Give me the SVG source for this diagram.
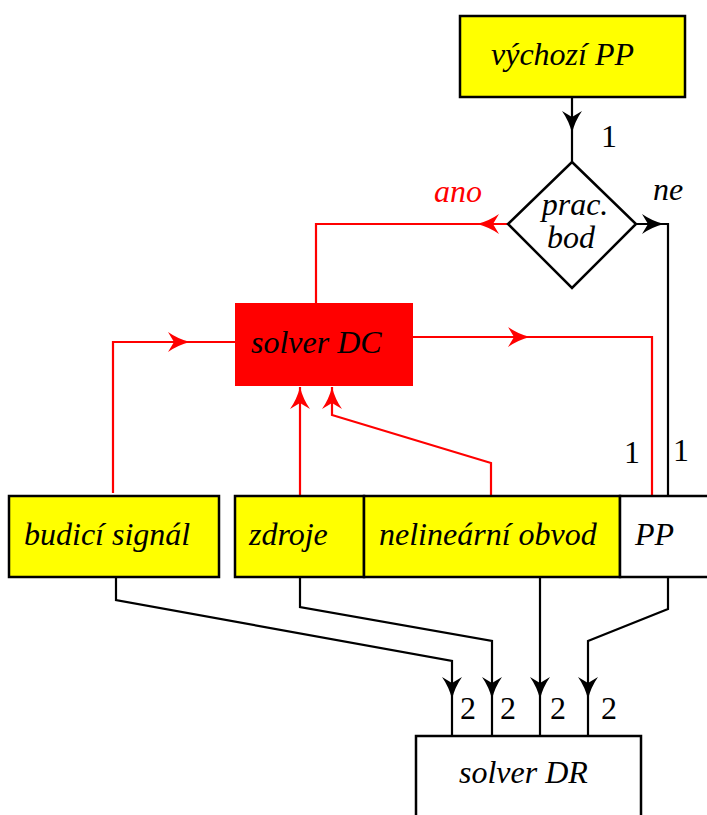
<svg xmlns="http://www.w3.org/2000/svg" xmlns:xlink="http://www.w3.org/1999/xlink" width="707" height="815" viewBox="0 0 707 815" font-family="Liberation Serif, Times New Roman, serif" font-size="32">
  <style>
    .box { fill: #ffff00; stroke: #000; stroke-width: 2.5; }
    .plain { fill: #fff; stroke: #000; stroke-width: 2.5; }
    .blk { fill: none; stroke: #000; stroke-width: 2.2; }
    .red { fill: none; stroke: #ff0000; stroke-width: 2.2; }
    .it { font-style: italic; }
  </style>
  <defs>
    <!-- barbed arrowhead, tip at origin, pointing along +x -->
    <path id="ah" d="M0,0 Q-12,-3 -22,-10 L-16,0 L-22,10 Q-12,3 0,0 Z"/>
  </defs>

  <!-- connectors -->
  <g id="connectors">
    <!-- black flow -->
    <path class="blk" d="M572,97 V162"/>
    <path class="blk" d="M636,224 H668 V497"/>
    <path class="blk" d="M116,577 V600 L452,661 V736"/>
    <path class="blk" d="M300,577 V607 L492,641 V736"/>
    <path class="blk" d="M540,577 V736"/>
    <path class="blk" d="M668,577 V609 L588,641 V736"/>
    <!-- red flow -->
    <path class="red" d="M508,224 H316 V303"/>
    <path class="red" d="M113,493 V342 H235"/>
    <path class="red" d="M413,337 H652 V497"/>
    <path class="red" d="M300,497 V387"/>
    <path class="red" d="M332,387 V415 L491,463 V497"/>

    <!-- arrowheads -->
    <use xlink:href="#ah" fill="#000" transform="translate(572,133) rotate(90)"/>
    <use xlink:href="#ah" fill="#000" transform="translate(664,224)"/>
    <use xlink:href="#ah" fill="#000" transform="translate(452,699) rotate(90)"/>
    <use xlink:href="#ah" fill="#000" transform="translate(492,699) rotate(90)"/>
    <use xlink:href="#ah" fill="#000" transform="translate(540,699) rotate(90)"/>
    <use xlink:href="#ah" fill="#000" transform="translate(588,699) rotate(90)"/>
    <use xlink:href="#ah" fill="#ff0000" transform="translate(477,224) rotate(180)"/>
    <use xlink:href="#ah" fill="#ff0000" transform="translate(190,342)"/>
    <use xlink:href="#ah" fill="#ff0000" transform="translate(530,337)"/>
    <use xlink:href="#ah" fill="#ff0000" transform="translate(300,387) rotate(-90)"/>
    <use xlink:href="#ah" fill="#ff0000" transform="translate(332,387) rotate(-90)"/>

    <!-- connector labels -->
    <text x="601" y="147">1</text>
    <text class="it" x="653" y="200">ne</text>
    <text class="it" x="434" y="202" fill="#ff0000">ano</text>
    <text x="624" y="463">1</text>
    <text x="673" y="461">1</text>
    <text x="460" y="719">2</text>
    <text x="500" y="719">2</text>
    <text x="550" y="719">2</text>
    <text x="601" y="719">2</text>
  </g>

  <g id="vychozi-pp">
    <rect class="box" x="460" y="16" width="225" height="81"/>
    <text class="it" x="491" y="65">výchozí PP</text>
  </g>

  <g id="prac-bod">
    <polygon class="plain" points="572,162 636,224 572,288 508,224"/>
    <text class="it" x="575" y="215" text-anchor="middle">prac.</text>
    <text class="it" x="571" y="248" text-anchor="middle">bod</text>
  </g>

  <g id="solver-dc">
    <rect x="235" y="303" width="178" height="83" fill="#ff0000"/>
    <text class="it" x="251" y="353">solver DC</text>
  </g>

  <g id="budici-signal">
    <rect class="box" x="9" y="496" width="210" height="81"/>
    <text class="it" x="24" y="545">budicí signál</text>
  </g>

  <g id="zdroje">
    <rect class="box" x="235" y="496" width="129" height="81"/>
    <text class="it" x="249" y="545">zdroje</text>
  </g>

  <g id="nelinearni-obvod">
    <rect class="box" x="364" y="496" width="256" height="81"/>
    <text class="it" x="379" y="545">nelineární obvod</text>
  </g>

  <g id="pp">
    <rect class="plain" x="620" y="496" width="100" height="81"/>
    <text class="it" x="635" y="545">PP</text>
  </g>

  <g id="solver-dr">
    <rect class="plain" x="416" y="736" width="225" height="100"/>
    <text class="it" x="459" y="783">solver DR</text>
  </g>
</svg>
